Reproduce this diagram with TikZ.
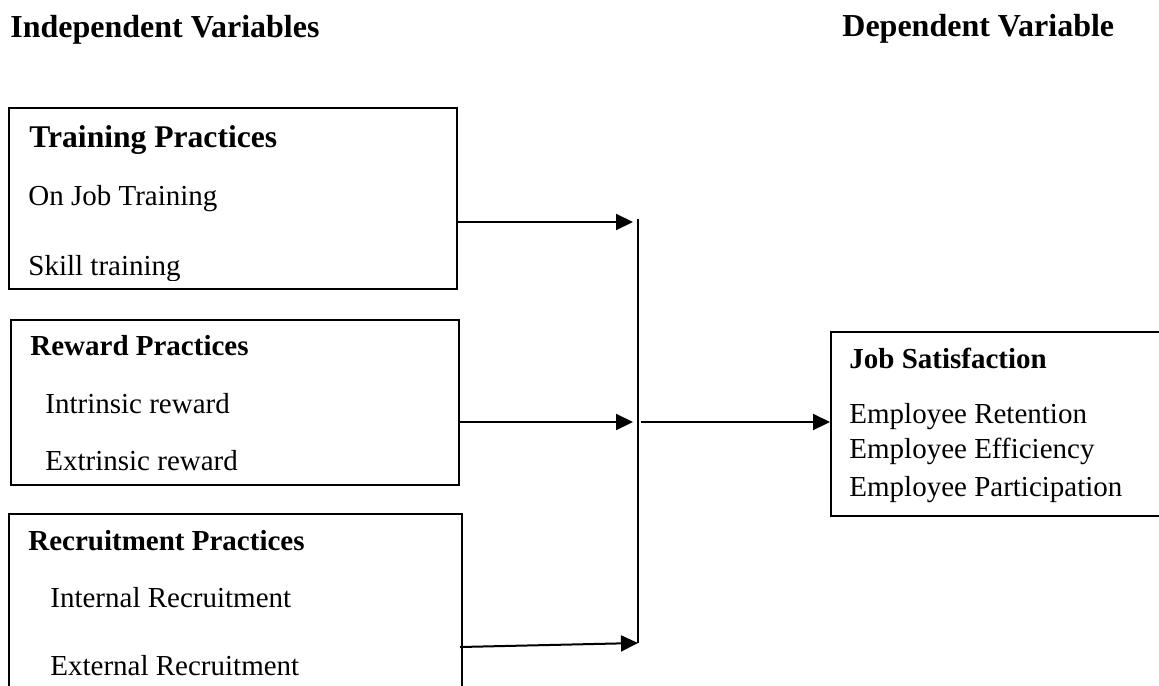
\documentclass[tikz,border=0pt]{standalone}
\usepackage{fontspec}
\setmainfont{Liberation Serif}
\usetikzlibrary{arrows.meta,positioning}

\begin{document}
\begin{tikzpicture}[
  x=0.5pt, y=-0.5pt,
  varbox/.style={rectangle, draw, line width=0.9pt, anchor=north west, inner sep=0pt},
  txt/.style={anchor=base west, inner sep=0pt, font=\fontsize{14.5}{17}\selectfont},
  hd/.style={txt, font=\fontsize{14.5}{17}\selectfont\bfseries},
  title/.style={txt, font=\fontsize{16}{19}\selectfont\bfseries},
  arrow/.style={-{Triangle[length=8.5pt,width=8pt]}, line width=1pt}
]
  \clip (0,0) rectangle (1159,685);
  \fill[white] (0,0) rectangle (1159,685);

  % titles
  \node[title] (indep) at (10,37)  {Independent Variables};
  \node[title] (dep)   at (842,36) {Dependent Variable};

  % boxes
  \node[varbox, minimum width=224pt,   minimum height=90.5pt] (train) at (8,107)  {};
  \node[varbox, minimum width=224pt,   minimum height=82.5pt] (reward) at (10,319) {};
  \node[varbox, minimum width=226.5pt, minimum height=100pt]  (recruit) at (8,513) {};
  \node[varbox, minimum width=175pt,   minimum height=92pt]   (job) at (830,331) {};

  % box texts
  \begin{scope}
    \clip (8,107) rectangle (456,280);
    \node[hd, font=\fontsize{15.8}{19}\selectfont\bfseries] (trainhd) at (29,147) {Training Practices};
    \node[txt] (ojt)     at (28,205) {On Job Training};
    \node[txt] (skill)   at (28,275) {Skill training};
  \end{scope}
  \node[hd]  (rewardhd) at (30,355) {Reward Practices};
  \node[txt] (intr)     at (45,413) {Intrinsic reward};
  \node[txt] (extr)     at (45,470) {Extrinsic reward};
  \node[hd]  (recruithd) at (28,550) {Recruitment Practices};
  \node[txt] (internal)  at (50,607) {Internal Recruitment};
  \node[txt] (external)  at (50,675) {External Recruitment};
  \node[hd]  (jobhd)  at (849,368) {Job Satisfaction};
  \node[txt] (ret)    at (849,423) {Employee Retention};
  \node[txt] (eff)    at (849,458) {Employee Efficiency};
  \node[txt] (part)   at (849,496) {Employee Participation};

  % junction line
  \coordinate (bustop) at (638,219);
  \coordinate (busbot) at (638,643);
  \draw[line width=1pt] (bustop) -- (busbot);

  \coordinate (t1) at (633,222);
  \coordinate (t2) at (633,422);
  \coordinate (r3) at (460,647);
  \coordinate (out) at (641,422);
  \draw[arrow] (train.east |- t1) -- (t1);
  \draw[arrow] (reward.east |- t2) -- (t2);
  \draw[arrow] (r3) -- (busbot);
  \draw[arrow] (out) -- (job.west |- out);
\end{tikzpicture}
\end{document}
